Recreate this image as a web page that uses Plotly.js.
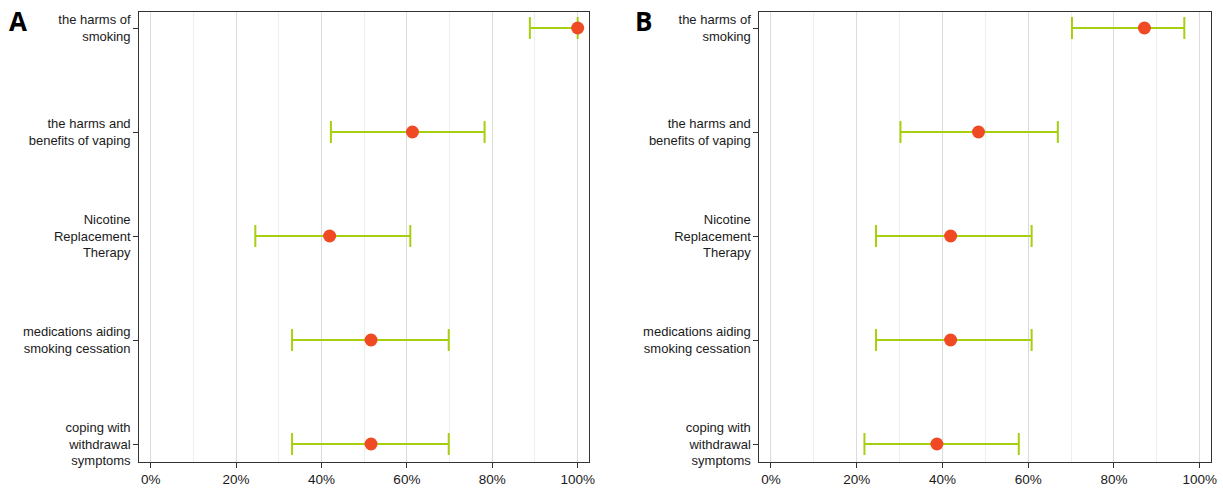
<!DOCTYPE html>
<html>
<head>
<meta charset="utf-8">
<script src="https://cdn.plot.ly/plotly-3.0.1.min.js"></script>
<style>html,body{margin:0;padding:0;background:#fff;}#chart{width:1223px;height:491px;}</style>
</head>
<body>
<div id="chart"></div>
<script>
const categories = [
  "the harms of<br>smoking",
  "the harms and<br>benefits of vaping",
  "Nicotine<br>Replacement<br>Therapy",
  "medications aiding<br>smoking cessation",
  "coping with<br>withdrawal<br>symptoms"
];
const pointA = [100, 61.3, 41.9, 51.6, 51.6];
const lowerA = [88.8, 42.2, 24.5, 33.1, 33.1];
const upperA = [100, 78.2, 60.8, 69.8, 69.8];
const pointB = [87.1, 48.4, 41.9, 41.9, 38.7];
const lowerB = [70.2, 30.2, 24.5, 24.5, 21.8];
const upperB = [96.4, 66.9, 60.8, 60.8, 57.8];
const xTickVals = [0, 20, 40, 60, 80, 100];
const xTickText = ["0%", "20%", "40%", "60%", "80%", "100%"];
const panelLabels = ["A", "B"];

const W = 1223, H = 491;
const barColor = "#a6cf10";
const pointColor = "#f04a24";

function trace(pt, lo, hi, xa, ya) {
  return {
    type: "scatter", mode: "markers",
    x: pt, y: categories, xaxis: xa, yaxis: ya,
    marker: {color: pointColor, size: 13},
    error_x: {
      type: "data", symmetric: false,
      array: pt.map((v, i) => hi[i] - v),
      arrayminus: pt.map((v, i) => v - lo[i]),
      color: barColor, thickness: 2, width: 11
    },
    hoverinfo: "x+y", showlegend: false
  };
}

const xRange = [-2.7, 102.7];
function xAxis(d0, d1, anchor) {
  return {
    domain: [d0 / W, d1 / W], anchor: anchor, range: xRange,
    tickvals: xTickVals, ticktext: xTickText,
    ticks: "outside", ticklen: 5, tickcolor: "#333", tickwidth: 1,
    showgrid: true, gridcolor: "#dcdcdc", gridwidth: 1,
    minor: {dtick: 10, tick0: 0, showgrid: true, gridcolor: "#eeeeee", gridwidth: 1, ticks: ""},
    showline: true, mirror: true, linecolor: "#333", linewidth: 1,
    zeroline: false,
    tickfont: {family: "Liberation Sans, Arial, sans-serif", size: 13.5, color: "#1a1a1a"}
  };
}
function yAxis(anchor) {
  return {
    domain: [1 - 462 / H, 1 - 12 / H], anchor: anchor,
    type: "category", categoryorder: "array", categoryarray: categories,
    range: [4.173, -0.154],
    ticks: "outside", ticklen: 5, tickcolor: "#333", tickwidth: 1,
    showgrid: false, zeroline: false,
    showline: true, mirror: true, linecolor: "#333", linewidth: 1,
    tickfont: {family: "Liberation Sans, Arial, sans-serif", size: 13, color: "#1a1a1a"}
  };
}

const layout = {
  width: W, height: H,
  margin: {l: 0, r: 0, t: 0, b: 0},
  paper_bgcolor: "#fff", plot_bgcolor: "#fff",
  xaxis: xAxis(139.2, 589.2, "y"),
  yaxis: yAxis("x"),
  xaxis2: xAxis(759.4, 1211.3, "y2"),
  yaxis2: yAxis("x2"),
  annotations: [
    {text: "<b>" + panelLabels[0] + "</b>", xref: "paper", yref: "paper", x: 18 / W, y: 1 - 21 / H,
     xanchor: "center", yanchor: "middle", showarrow: false,
     font: {family: "Open Sans, Noto Sans, sans-serif", size: 26, color: "#000"}},
    {text: "<b>" + panelLabels[1] + "</b>", xref: "paper", yref: "paper", x: 643 / W, y: 1 - 21 / H,
     xanchor: "center", yanchor: "middle", showarrow: false,
     font: {family: "Open Sans, Noto Sans, sans-serif", size: 26, color: "#000"}}
  ]
};

Plotly.newPlot("chart", [trace(pointA, lowerA, upperA, "x", "y"), trace(pointB, lowerB, upperB, "x2", "y2")], layout, {displayModeBar: false, staticPlot: true});
</script>
</body>
</html>
